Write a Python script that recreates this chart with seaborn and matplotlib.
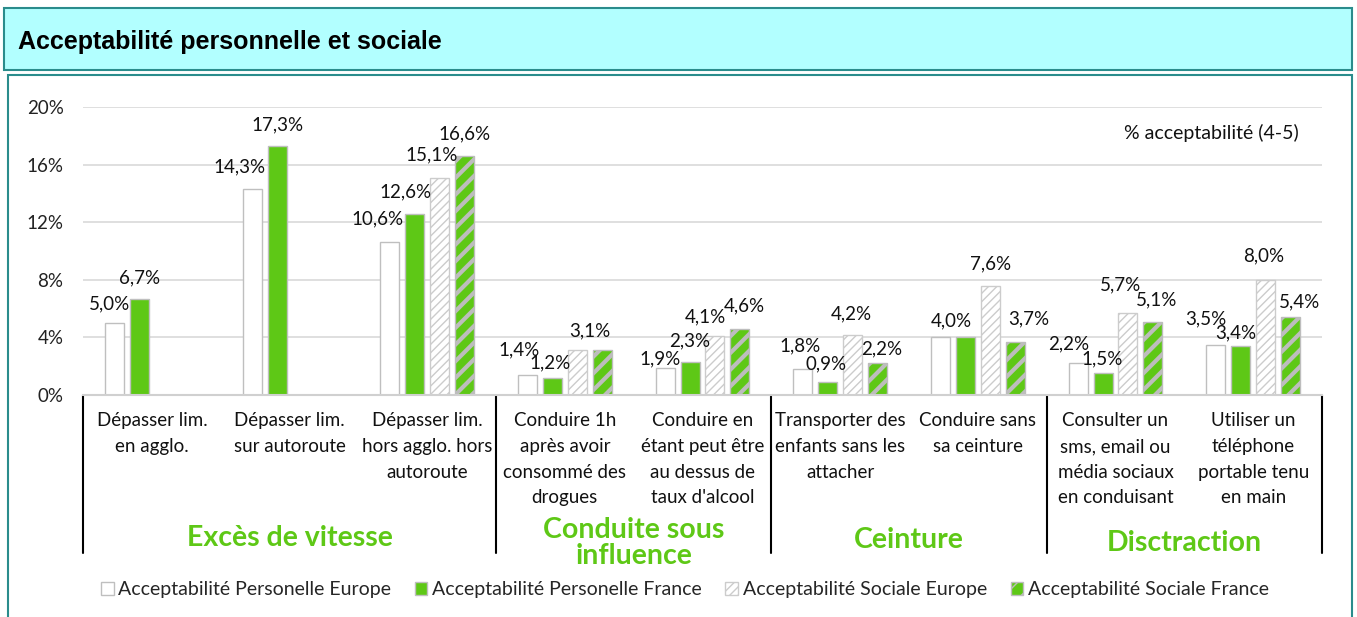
import numpy as np
import pandas as pd
import matplotlib
matplotlib.use('Agg')
import matplotlib.pyplot as plt
import matplotlib.patches as mpatches
import seaborn as sns

# data
categories = ["Dépasser lim.\nen agglo.", "Dépasser lim.\nsur autoroute", "Dépasser lim.\nhors agglo. hors\nautoroute",
              "Conduire 1h\naprès avoir\nconsommé des\ndrogues", "Conduire en\nétant peut être\nau dessus de\ntaux d'alcool",
              "Transporter des\nenfants sans les\nattacher", "Conduire sans\nsa ceinture",
              "Consulter un\nsms, email ou\nmédia sociaux\nen conduisant", "Utiliser un\ntéléphone\nportable tenu\nen main"]
series = ["Acceptabilité Personelle Europe", "Acceptabilité Personelle France",
          "Acceptabilité Sociale Europe", "Acceptabilité Sociale France"]
perso_europe = [5.0, 14.3, 10.6, 1.4, 1.9, 1.8, 4.0, 2.2, 3.5]
perso_france = [6.7, 17.3, 12.6, 1.2, 2.3, 0.9, 4.0, 1.5, 3.4]
sociale_europe = [np.nan, np.nan, 15.1, 3.1, 4.1, 4.2, 7.6, 5.7, 8.0]
sociale_france = [np.nan, np.nan, 16.6, 3.1, 4.6, 2.2, 3.7, 5.1, 5.4]
groups = ["Excès de vitesse", "Conduite sous\ninfluence", "Ceinture", "Disctraction"]
group_bounds = [(-0.5, 2.5), (2.5, 4.5), (4.5, 6.5), (6.5, 8.5)]
yticks = [0, 4, 8, 12, 16, 20]

# value label nudges (pixels: dx, height of label centre above bar top), as in the original layout
label_dx = [[-5, -13, -12, -8, -5, -3, -1.5, -9, -10],
            [0, 0, -9, -2, 0, -2, 0, -1, -5],
            [0, 0, -8, 0, -10, -1, 0, -7, -2],
            [0, 0, 0, 0, 4, 4, 13, 4, 9]]
label_dy = [[21, 24, 25, 26, 10, 25, 18, 21, 27],
            [22.5, 23, 23.5, 16, 23, 20, 18, 16, 15],
            [22, 22, 24.5, 21, 21, 22, 23, 30, 25],
            [22, 22, 24, 21, 24, 16, 24, 23, 17]]

green = '#5ec816'
teal = '#2a8c8c'

rows = []
for s, vals in zip(series, [perso_europe, perso_france, sociale_europe, sociale_france]):
    for c, v in zip(categories, vals):
        rows.append({'cat': c, 'serie': s, 'val': v})
df = pd.DataFrame(rows).dropna()

sns.set_style('white')
plt.rcParams['font.family'] = ['Lato', 'DejaVu Sans']

fig = plt.figure(figsize=(13.57, 6.17), dpi=100)

# header and frame boxes
fig.patches.append(mpatches.Rectangle((4/1357, 1-70/617), 1348/1357, 62/617, transform=fig.transFigure,
                                      facecolor='#b2ffff', edgecolor=teal, linewidth=1.5, zorder=-10))
fig.patches.append(mpatches.Rectangle((8/1357, -0.01), 1344/1357, 1-75/617+0.01, transform=fig.transFigure,
                                      facecolor='white', edgecolor=teal, linewidth=1.5, zorder=-10))
fig.text(18/1357, 1-42/617, "Acceptabilité personnelle et sociale", family='Liberation Sans',
         fontweight='bold', fontsize=18, va='center', ha='left', color='black')

ax = fig.add_axes([83/1357, 1-395/617, 1239/1357, 288/617])
ax.set_facecolor('none')
sns.barplot(data=df, x='cat', y='val', hue='serie', order=categories, hue_order=series,
            palette=['white', green, 'white', green], saturation=1, width=0.726, gap=0.24,
            legend=False, ax=ax, zorder=3)

styles = {
    0: dict(facecolor='white', edgecolor='#bfbfbf', hatch=None, hlw=1),
    1: dict(facecolor=green, edgecolor='#bfbfbf', hatch=None, hlw=1),
    2: dict(facecolor='white', edgecolor='#cccccc', hatch='////', hlw=1.0),
    3: dict(facecolor=green, edgecolor='#bdbdbd', hatch='//', hlw=3.0),
}
# collect bar tops per category to place value labels
tops = {}
for i, cont in enumerate(ax.containers):
    st = styles[i]
    for bar in cont:
        bar.set_facecolor(st['facecolor'])
        bar.set_edgecolor(st['edgecolor'])
        bar.set_linewidth(1.0)
        if st['hatch']:
            bar.set_hatch(st['hatch'])
            if hasattr(bar, 'set_hatch_linewidth'):
                bar.set_hatch_linewidth(st['hlw'])
        h = bar.get_height()
        if np.isnan(h):
            continue
        xc = bar.get_x() + bar.get_width() / 2
        cat = int(round(xc))
        tops.setdefault(cat, []).append((xc, h, i))

for cat, items in tops.items():
    items.sort()
    j = 0
    while j < len(items):
        xc, h, s = items[j]
        # identical neighbouring values share one label
        if j + 1 < len(items) and abs(items[j + 1][1] - h) < 1e-9:
            xc = (xc + items[j + 1][0]) / 2
            j += 1
        ax.annotate(f"{h:.1f}%".replace('.', ','), (xc, h),
                    xytext=(label_dx[s][cat], label_dy[s][cat]), textcoords='offset pixels',
                    ha='center', va='center_baseline',
                    fontsize=13.5, color='#111111', zorder=5, annotation_clip=False)
        j += 1

ax.set_ylim(0, 20)
ax.set_xlim(-0.5, 8.5)
ax.set_yticks(yticks)
ax.set_yticklabels([f"{t}%" for t in yticks], fontsize=13.5, color='#222222')
ax.tick_params(axis='y', length=0, pad=14)
ax.set_xticks([])
ax.set_xlabel('')
ax.set_ylabel('')
ax.grid(axis='y', color='#d9d9d9', linewidth=1.2, zorder=0)
for sp in ['top', 'right', 'left']:
    ax.spines[sp].set_visible(False)
ax.spines['bottom'].set_color('#d0d0d0')
ax.spines['bottom'].set_linewidth(1.5)
ax.spines['bottom'].set_zorder(4)

trans = ax.get_xaxis_transform()
for i, c in enumerate(categories):
    ax.text(i, -0.06, c, transform=trans, ha='center', va='top', fontsize=13.5,
            linespacing=1.62, color='#111111')

title_y = [-0.497, -0.515, -0.503, -0.513]
for (a, b), g, ty in zip(group_bounds, groups, title_y):
    ax.text((a + b) / 2, ty, g, transform=trans, ha='center', va='center', fontsize=20.5,
            fontweight='bold', color=green, linespacing=1.0)
for x in [-0.5, 2.5, 4.5, 6.5, 8.5]:
    ax.plot([x, x], [0, -0.55], transform=trans, color='black', linewidth=1.5, clip_on=False)

ax.text(0.981, 0.91, "% acceptabilité (4-5)", transform=ax.transAxes, ha='right', va='center',
        fontsize=14, color='#111111')

handles = [
    mpatches.Patch(facecolor='white', edgecolor='#bfbfbf', label=series[0]),
    mpatches.Patch(facecolor=green, edgecolor='#bfbfbf', label=series[1]),
    mpatches.Patch(facecolor='white', edgecolor='#cccccc', hatch='////', label=series[2]),
    mpatches.Patch(facecolor=green, edgecolor='#bdbdbd', hatch='//', label=series[3]),
]
fig.legend(handles=handles, loc='center', bbox_to_anchor=(685/1357, 1-590/617), ncol=4, frameon=False,
           fontsize=14, handlelength=0.65, handleheight=0.65, handletextpad=0.25, columnspacing=1.2)

fig.savefig('out.png', dpi=100)
